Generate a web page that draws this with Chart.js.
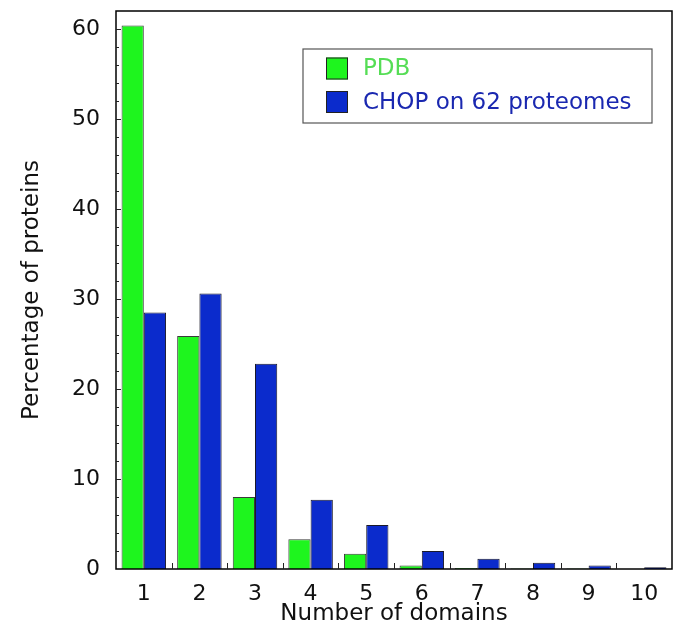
<!DOCTYPE html>
<html>
<head>
<meta charset="utf-8">
<script src="https://cdn.jsdelivr.net/npm/chart.js@4/dist/chart.umd.min.js"></script>
<style>
  html, body { margin: 0; padding: 0; background: #fff; }
  #wrap { width: 677px; height: 626px; }
</style>
</head>
<body>
<div id="wrap"><canvas id="myChart" width="677" height="626"></canvas></div>
<script>
// chart data
const domains = ['1', '2', '3', '4', '5', '6', '7', '8', '9', '10'];
const pdb = [60.4, 25.9, 8.0, 3.3, 1.7, 0.4, 0.1, 0.05, 0.05, 0];
const chop = [28.5, 30.6, 22.8, 7.7, 4.9, 2.0, 1.15, 0.7, 0.4, 0.2];
const yTicks = [0, 10, 20, 30, 40, 50, 60];

const FONT = "'DejaVu Sans', sans-serif";

// frame, inward ticks and the boxed legend
const extras = {
    id: 'extras',
    afterDraw(chart) {
        const ctx = chart.ctx;
        const a = chart.chartArea;
        const x = chart.scales.x;
        const y = chart.scales.y;
        ctx.save();
        ctx.strokeStyle = '#000';
        ctx.lineWidth = 1.5;
        ctx.strokeRect(a.left, a.top, a.right - a.left, a.bottom - a.top);

        // y ticks, minor every 2
        ctx.lineWidth = 1;
        ctx.strokeStyle = '#222';
        for (let v = 2; v <= 60; v += 2) {
            const py = Math.round(y.getPixelForValue(v)) + 0.5;
            const len = (v % 10 === 0) ? 5 : 3;
            ctx.beginPath();
            ctx.moveTo(a.left, py);
            ctx.lineTo(a.left + len, py);
            ctx.stroke();
        }
        // x ticks between categories
        for (let i = 0; i < domains.length - 1; i++) {
            const px = Math.round((x.getPixelForValue(i) + x.getPixelForValue(i + 1)) / 2) + 0.5;
            ctx.beginPath();
            ctx.moveTo(px, a.bottom);
            ctx.lineTo(px, a.bottom - 6);
            ctx.stroke();
        }

        // legend
        ctx.fillStyle = '#fff';
        ctx.fillRect(303, 49, 349, 74);
        ctx.strokeStyle = '#555';
        ctx.lineWidth = 1.2;
        ctx.strokeRect(303, 49, 349, 74);
        const textColors = ['#55dd55', '#1a28b0'];
        const rowsY = [68.5, 102];
        chart.data.datasets.forEach((ds, i) => {
            ctx.fillStyle = ds.backgroundColor;
            ctx.fillRect(326, rowsY[i] - 11, 22, 22);
            ctx.strokeStyle = '#222';
            ctx.lineWidth = 1;
            ctx.strokeRect(326.5, rowsY[i] - 10.5, 21, 21);
            ctx.fillStyle = textColors[i];
            ctx.font = '23px ' + FONT;
            ctx.textBaseline = 'middle';
            ctx.textAlign = 'left';
            ctx.fillText(ds.label, 363, rowsY[i] + 1);
        });
        ctx.restore();
    }
};

const ctx = document.getElementById('myChart').getContext('2d');
new Chart(ctx, {
    type: 'bar',
    data: {
        labels: domains,
        datasets: [{
            label: 'PDB',
            data: pdb,
            backgroundColor: '#1ef51e',
            borderColor: '#3a3a3a',
            borderWidth: 1,
            categoryPercentage: 0.8,
            barPercentage: 1.0
        }, {
            label: 'CHOP on 62 proteomes',
            data: chop,
            backgroundColor: '#0b2bcc',
            borderColor: '#1a1a2a',
            borderWidth: 1,
            categoryPercentage: 0.8,
            barPercentage: 1.0
        }]
    },
    options: {
        responsive: false,
        animation: false,
        layout: { padding: { top: 11, right: 5, left: 0, bottom: 0 } },
        plugins: {
            legend: { display: false },
            tooltip: { enabled: false }
        },
        scales: {
            x: {
                grid: { display: false, drawTicks: false },
                border: { display: false },
                ticks: { color: '#111', padding: 12, font: { family: FONT, size: 22 } },
                title: {
                    display: true,
                    text: 'Number of domains',
                    color: '#111',
                    font: { family: FONT, size: 23, lineHeight: 1 },
                    padding: { top: 0, bottom: 0 }
                },
                afterFit: s => {
                    s.height = 57;
                    s.paddingLeft = 0;
                    s.paddingRight = 0;
                }
            },
            y: {
                min: 0,
                max: 62,
                grid: { display: false, drawTicks: false },
                border: { display: false },
                afterBuildTicks: s => { s.ticks = yTicks.map(v => ({ value: v })); },
                ticks: { color: '#111', padding: 16, font: { family: FONT, size: 22 } },
                title: {
                    display: true,
                    text: 'Percentage of proteins',
                    color: '#111',
                    font: { family: FONT, size: 23, lineHeight: 1 },
                    padding: { top: 21, bottom: 0 }
                },
                afterFit: s => {
                    s.width = 116;
                    s.paddingTop = 0;
                    s.paddingBottom = 0;
                }
            }
        }
    },
    plugins: [extras]
});
</script>
</body>
</html>
